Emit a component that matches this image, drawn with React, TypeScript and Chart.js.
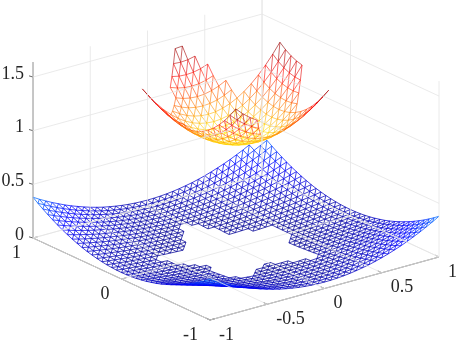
import React, { useEffect, useRef } from "react";
import { Chart, registerables } from "chart.js";

Chart.register(...registerables);

const xTicks = [-1, -0.5, 0, 0.5, 1];
const xTickLabels = ["-1", "-0.5", "0", "0.5", "1"];
const yTicks = [-1, 0, 1];
const yTickLabels = ["-1", "0", "1"];
const zTicks = [0, 0.5, 1, 1.5];
const zTickLabels = ["0", "0.5", "1", "1.5"];
const zTop = 1.64;
const lowerStep = 1 / 18;
const upperStep = 1 / 16;

// Lower sheet heights, by larger then smaller absolute grid index (it is mirror symmetric).
const lowerHeights = [
  [0],
  [0, 0],
  [0.001, 0.001, 0.001],
  [0.002, 0.002, 0.002, 0.004],
  [0.003, 0.003, 0.004, 0.005, 0.007],
  [0.005, 0.005, 0.005, 0.007, 0.009, 0.011],
  [0.007, 0.007, 0.008, 0.009, 0.011, 0.013, 0.017],
  [0.009, 0.009, 0.01, 0.012, 0.014, 0.017, 0.02, 0.024],
  [0.012, 0.012, 0.013, 0.015, 0.018, 0.021, 0.024, 0.029, 0.034],
  [0.015, 0.015, 0.016, 0.018, 0.021, 0.024, 0.029, 0.034, 0.039, 0.046],
  [0.019, 0.019, 0.02, 0.022, 0.025, 0.029, 0.034, 0.04, 0.046, 0.054, 0.062],
  [0.022, 0.023, 0.024, 0.027, 0.031, 0.035, 0.041, 0.047, 0.055, 0.063, 0.073, 0.084],
  [0.027, 0.027, 0.029, 0.031, 0.035, 0.04, 0.046, 0.053, 0.061, 0.07, 0.081, 0.093, 0.107],
  [0.031, 0.032, 0.034, 0.037, 0.041, 0.046, 0.053, 0.061, 0.07, 0.08, 0.092, 0.104, 0.118, 0.133],
  [0.036, 0.037, 0.039, 0.042, 0.047, 0.053, 0.061, 0.069, 0.079, 0.091, 0.103, 0.118, 0.133, 0.15, 0.168],
  [0.042, 0.043, 0.045, 0.048, 0.054, 0.06, 0.069, 0.078, 0.089, 0.102, 0.116, 0.132, 0.149, 0.167, 0.187, 0.209],
  [0.047, 0.048, 0.051, 0.055, 0.061, 0.068, 0.077, 0.088, 0.1, 0.114, 0.129, 0.147, 0.165, 0.186, 0.208, 0.232, 0.257],
  [0.054, 0.054, 0.057, 0.062, 0.068, 0.076, 0.086, 0.098, 0.111, 0.127, 0.144, 0.163, 0.183, 0.206, 0.23, 0.256, 0.284, 0.314],
  [0.06, 0.061, 0.064, 0.069, 0.076, 0.085, 0.096, 0.108, 0.123, 0.14, 0.159, 0.18, 0.202, 0.227, 0.254, 0.282, 0.313, 0.345, 0.38],
];

// Nodes missing from the lower sheet: row index, first and last column index.
const lowerHole = [
  [18, 17, 18], [9, -1, -1], [8, -1, 0], [7, -2, 0], [6, -3, 1], [5, -3, 1], [4, -4, 1], [3, -5, 4],
  [2, -10, 7], [1, -9, 7], [0, -9, 7], [-1, -8, 7], [-2, -7, 6], [-3, -6, 5], [-4, -6, 5], [-5, -7, 5],
  [-6, -7, 5], [-7, -7, -2], [-7, 1, 5], [-8, -7, -4], [-8, 3, 5], [-9, -6, -5], [-9, 5, 5],
];

// Upper sheet heights, same indexing.
const upperHeights = [
  [1],
  [1.005, 1.01],
  [1.02, 1.024, 1.039],
  [1.044, 1.049, 1.063, 1.088],
  [1.078, 1.083, 1.098, 1.122, 1.156],
  [1.122, 1.127, 1.142, 1.166, 1.2, 1.244],
  [1.176, 1.181, 1.195, 1.22, 1.254, 1.298, 1.352],
  [1.239, 1.244, 1.259, 1.283, 1.317, 1.361, 1.415, 1.479],
  [1.313, 1.317, 1.332, 1.356, 1.391, 1.435, 1.488, 1.552, 1.625],
  [1.396, 1.4, 1.415, 1.439, 1.474, 1.518, 1.571, 1.635, 1.708, 1.791],
  [1.488, 1.493, 1.508, 1.532, 1.566, 1.61, 1.664, 1.728, 1.801, 1.884, 1.977],
  [1.591, 1.596, 1.61, 1.635, 1.669, 1.713, 1.767, 1.83, 1.903, 1.986, 2.079, 2.182],
];

// Nodes present in the upper sheet: row index, first and last column index.
const upperRows = [
  [11, 0, 1], [10, -1, 2], [9, -2, 3], [8, -3, 3], [7, -3, 4], [6, -4, 4], [5, -5, 10], [4, -10, 10],
  [3, -10, 10], [2, -9, 10], [1, -9, 10], [0, -8, 9], [-1, -8, 8], [-2, -7, 7], [-3, -7, 6],
  [-4, -7, 6], [-5, -7, 6], [-6, -7, 6], [-7, -7, -2], [-7, 1, 6], [-8, -7, -3], [-8, 4, 6],
  [-9, -7, -4], [-9, 5, 6],
];

const jetStops: [number, number[]][] = [
  [0, [0, 0, 143]], [0.125, [0, 0, 255]], [0.375, [0, 255, 255]],
  [0.625, [255, 255, 0]], [0.875, [255, 0, 0]], [1, [128, 0, 0]],
];
const colorTop = 1.6;
const levels = 64;

function jet(t: number) {
  for (let k = 1; k < jetStops.length; k++) {
    const [t1, c1] = jetStops[k];
    const [t0, c0] = jetStops[k - 1];
    if (t <= t1) {
      const f = (t - t0) / (t1 - t0);
      return `rgb(${c0.map((v, n) => Math.round(v + (c1[n] - v) * f)).join(",")})`;
    }
  }
  return "rgb(128,0,0)";
}

function project(x: number, y: number, z: number) {
  return { x: 236 + 114.5 * x - 88.5 * y, y: 247.5 - 31.5 * x - 41 * y - 107.3 * z };
}

function line3d(a: number[], b: number[]) {
  return [project(a[0], a[1], a[2]), project(b[0], b[1], b[2])];
}

function meshBuckets(size: number, step: number, heights: number[][], has: (i: number, j: number) => boolean) {
  const buckets = new Map<number, any[]>();
  const z = (i: number, j: number) => {
    const a = Math.abs(i), b = Math.abs(j);
    return heights[Math.max(a, b)][Math.min(a, b)];
  };
  const seen = new Set<string>();
  const edge = (a: number[], b: number[]) => {
    const key = a.join() + "|" + b.join();
    if (seen.has(key)) return;
    seen.add(key);
    const za = z(a[0], a[1]), zb = z(b[0], b[1]);
    const level = Math.min(levels - 1, Math.floor(((za + zb) / 2 / colorTop) * levels));
    if (!buckets.has(level)) buckets.set(level, []);
    buckets.get(level)!.push(
      project(a[0] * step, a[1] * step, za),
      project(b[0] * step, b[1] * step, zb),
      { x: NaN, y: NaN }
    );
  };
  for (let i = -size; i < size; i++) {
    for (let j = -size; j < size; j++) {
      const p = [i, j], q = [i + 1, j], r = [i + 1, j + 1], s = [i, j + 1];
      if (has(i, j) && has(i + 1, j) && has(i + 1, j + 1)) { edge(p, q); edge(q, r); edge(p, r); }
      if (has(i, j) && has(i, j + 1) && has(i + 1, j + 1)) { edge(p, s); edge(s, r); edge(p, r); }
    }
  }
  return buckets;
}

const inLower = (i: number, j: number) => !lowerHole.some(([r, a, b]) => r === j && i >= a && i <= b);
const inUpper = (i: number, j: number) => upperRows.some(([r, a, b]) => r === j && i >= a && i <= b);

export default function App() {
  const ref = useRef<HTMLCanvasElement>(null);
  useEffect(() => {
    document.body.style.margin = "0";
    const gridPts: any[] = [];
    const addGrid = (a: number[], b: number[]) => gridPts.push(...line3d(a, b), { x: NaN, y: NaN });
    for (const x of xTicks) {
      addGrid([x, -1, 0], [x, 1, 0]);
      addGrid([x, 1, 0], [x, 1, zTop]);
    }
    for (const y of yTicks) {
      addGrid([-1, y, 0], [1, y, 0]);
      addGrid([1, y, 0], [1, y, zTop]);
    }
    for (const z of zTicks) {
      addGrid([-1, 1, z], [1, 1, z]);
      addGrid([1, 1, z], [1, -1, z]);
    }
    const axisPts: any[] = [];
    const addAxis = (a: number[], b: number[]) => axisPts.push(...line3d(a, b), { x: NaN, y: NaN });
    addAxis([-1, 1, 0], [-1, 1, zTop]);
    addAxis([-1, 1, 0], [-1, -1, 0]);
    addAxis([-1, -1, 0], [1, -1, 0]);
    for (const x of xTicks) addAxis([x, -1, 0], [x, -0.955, 0]);
    for (const y of yTicks) addAxis([-1, y, 0], [-0.955, y, 0]);
    for (const z of zTicks) {
      const p = project(-1, 1, z);
      axisPts.push({ x: p.x - 4, y: p.y - 1.2 }, p, { x: NaN, y: NaN });
    }
    const lowerBuckets = meshBuckets(18, lowerStep, lowerHeights, inLower);
    const upperBuckets = meshBuckets(11, upperStep, upperHeights, inUpper);

    const base = { showLine: true, pointRadius: 0, spanGaps: false, tension: 0, fill: false };
    const meshSets = (buckets: Map<number, any[]>, width: number) =>
      [...buckets.entries()].map(([level, data]) => ({
        ...base,
        data,
        borderColor: jet((level + 0.5) / levels),
        borderWidth: width,
      }));
    const datasets: any[] = [
      { ...base, data: gridPts, borderColor: "#e4e4e4", borderWidth: 0.8 },
      ...meshSets(lowerBuckets, 0.75),
      ...meshSets(upperBuckets, 0.6),
      { ...base, data: axisPts, borderColor: "#555555", borderWidth: 0.9 },
    ];

    const tickText = {
      id: "tickText",
      afterDatasetsDraw(chart: any) {
        const { ctx, scales } = chart;
        const put = (text: string, p: { x: number; y: number }, dx: number, dy: number, align: CanvasTextAlign) => {
          ctx.textAlign = align;
          ctx.fillText(text, scales.x.getPixelForValue(p.x) + dx, scales.y.getPixelForValue(p.y) + dy);
        };
        ctx.save();
        ctx.font = '18px "Liberation Serif"';
        ctx.fillStyle = "#262626";
        ctx.textBaseline = "middle";
        xTicks.forEach((x, n) => put(xTickLabels[n], project(x, -1, 0), 9, 15, "left"));
        yTicks.forEach((y, n) => put(yTickLabels[n], project(-1, y, 0), -12, 15, "right"));
        zTicks.forEach((z, n) => put(zTickLabels[n], project(-1, 1, z), -9, -3, "right"));
        ctx.restore();
      },
    };

    const chart = new Chart(ref.current!, {
      type: "scatter",
      data: { datasets },
      options: {
        animation: false,
        responsive: false,
        layout: { padding: 0 },
        plugins: { legend: { display: false }, tooltip: { enabled: false } },
        scales: {
          x: { type: "linear", min: 0, max: 457, display: false },
          y: { type: "linear", min: 0, max: 342, reverse: true, display: false },
        },
      },
      plugins: [tickText],
    } as any);
    return () => chart.destroy();
  }, []);
  return <canvas ref={ref} width={457} height={342} style={{ display: "block", background: "#fff" }} />;
}
